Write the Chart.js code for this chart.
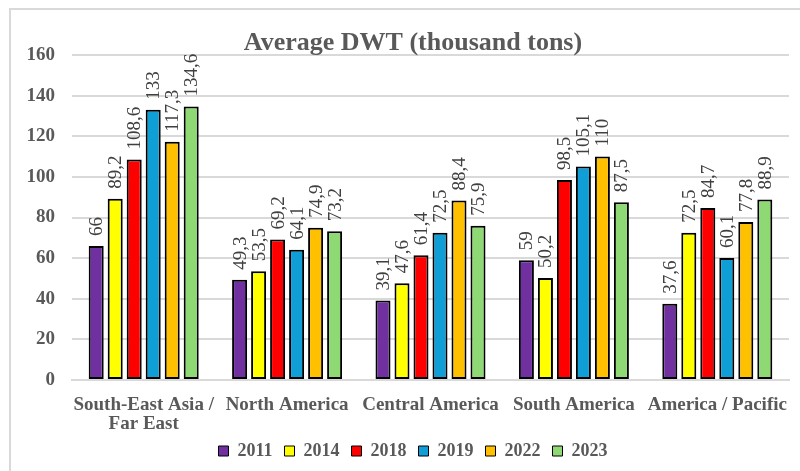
<!DOCTYPE html>
<html lang="en">
<head>
<meta charset="UTF-8">
<title>Average DWT</title>
<style>
	html, body { margin: 0; padding: 0; background: #fff; overflow: hidden; }
	#frame { position: absolute; left: 9px; top: 8px; width: 830px; height: 500px; border: 2px solid #d9d9d9; }
	#wrap { position: absolute; left: 0; top: 0; width: 807px; height: 471px; }
</style>
</head>
<body>
<div id="frame"></div>
<div id="wrap"><canvas id="chart" width="807" height="471"></canvas></div>
<script src="https://cdn.jsdelivr.net/npm/chart.js@4/dist/chart.umd.min.js"></script>
<script>
const regions = [["South-East Asia /", "Far East"], "North America", "Central America", "South America", "America / Pacific"];
const years = ["2011", "2014", "2018", "2019", "2022", "2023"];
const colors = ["#7030A0", "#FFFF00", "#FF0000", "#0F9ED5", "#FFC000", "#8ED973"];

const dwt2011 = [66, 49.3, 39.1, 59, 37.6];
const dwt2014 = [89.2, 53.5, 47.6, 50.2, 72.5];
const dwt2018 = [108.6, 69.2, 61.4, 98.5, 84.7];
const dwt2019 = [133, 64.1, 72.5, 105.1, 60.1];
const dwt2022 = [117.3, 74.9, 88.4, 110, 77.8];
const dwt2023 = [134.6, 73.2, 75.9, 87.5, 88.9];

const yTicks = [0, 20, 40, 60, 80, 100, 120, 140, 160];

const series = [dwt2011, dwt2014, dwt2018, dwt2019, dwt2022, dwt2023];
const serif = "'Liberation Serif', 'Times New Roman', serif";
const grey = "#595959";

// values on top of the bars, written upwards
const barLabels = {
	id: "barLabels",
	afterDatasetsDraw(chart) {
		const ctx = chart.ctx;
		ctx.save();
		ctx.font = "19px " + serif;
		ctx.fillStyle = "#404040";
		ctx.textAlign = "left";
		ctx.textBaseline = "middle";
		chart.data.datasets.forEach((ds, i) => {
			chart.getDatasetMeta(i).data.forEach((bar, j) => {
				ctx.save();
				ctx.translate(bar.x, bar.y - 10);
				ctx.rotate(-Math.PI / 2);
				ctx.fillText(String(ds.data[j]).replace(".", ","), 0, 1);
				ctx.restore();
			});
		});
		ctx.restore();
	}
};

// legend sits a bit closer to the axis labels than chart.js would put it
const legendNudge = {
	id: "legendNudge",
	afterLayout(chart) {
		chart.legend.top -= 6;
		chart.legend.bottom -= 6;
	}
};

new Chart("chart", {
	type: "bar",
	data: {
		labels: regions,
		datasets: years.map((y, i) => ({
			label: y,
			data: series[i],
			backgroundColor: colors[i],
			borderColor: "#000",
			borderWidth: 2,
			borderSkipped: false,
			categoryPercentage: 0.795,
			barPercentage: 0.79
		}))
	},
	options: {
		responsive: false,
		animation: false,
		layout: { padding: { left: 19, right: 0, top: 0, bottom: -5 } },
		plugins: {
			title: {
				display: true,
				text: "Average DWT (thousand tons)",
				color: grey,
				font: { family: serif, size: 26, weight: "bold", lineHeight: 1.0 },
				padding: { top: 30, bottom: -1 }
			},
			legend: {
				position: "bottom",
				labels: {
					color: grey,
					font: { family: serif, size: 18, weight: "bold" },
					boxWidth: 10,
					boxHeight: 10,
					padding: 12,
					generateLabels(chart) {
						return chart.data.datasets.map((ds, i) => ({
							text: ds.label,
							fillStyle: ds.backgroundColor,
							strokeStyle: "#000",
							lineWidth: 1,
							fontColor: grey,
							datasetIndex: i
						}));
					}
				}
			},
			tooltip: { enabled: false }
		},
		scales: {
			x: {
				afterFit: scale => { scale.height = 56; },
				grid: { display: false, drawTicks: false },
				border: { display: true, color: "#d9d9d9", width: 2 },
				ticks: {
					color: grey,
					font: { family: serif, size: 19, weight: "bold", lineHeight: 1.0 },
					padding: 16,
					maxRotation: 0,
					autoSkip: false
				}
			},
			y: {
				min: 0,
				max: 160,
				afterBuildTicks: scale => { scale.ticks = yTicks.map(v => ({ value: v })); },
				afterFit: scale => { scale.width = 53; },
				grid: { color: "#d9d9d9", lineWidth: 2, drawTicks: false },
				border: { display: false },
				ticks: {
					color: grey,
					font: { family: serif, size: 19, weight: "bold" },
					padding: 17
				}
			},
			// empty strip on the right, the plot ends short of the chart frame
			y2: {
				type: "linear",
				position: "right",
				afterFit: scale => { scale.width = 18; },
				grid: { display: false },
				border: { display: false },
				ticks: { display: false }
			}
		}
	},
	plugins: [barLabels, legendNudge]
});
</script>
</body>
</html>
